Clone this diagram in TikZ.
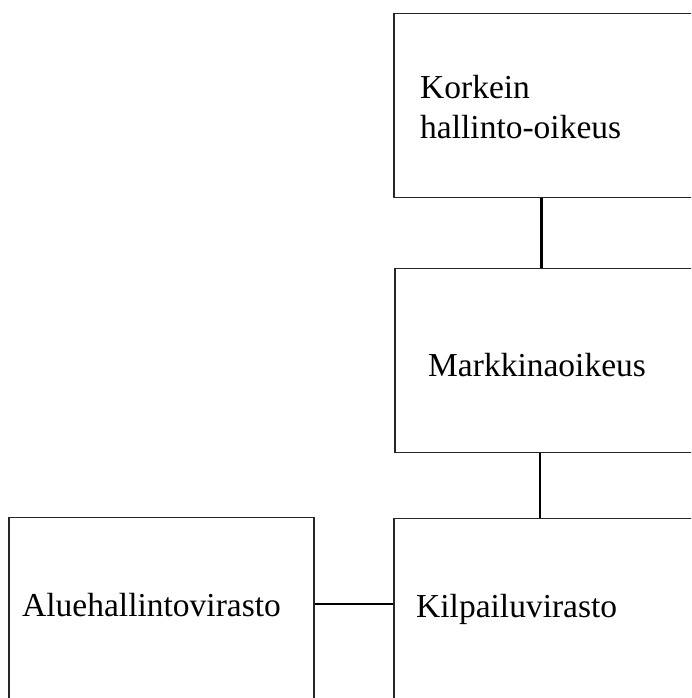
\documentclass[tikz,border=0pt]{standalone}
\usepackage{fontspec}
\setmainfont{Liberation Serif}
\usetikzlibrary{positioning}

\tikzset{
	laatikko/.style={draw=black!85, line width=1.5pt, rectangle, inner sep=0pt, anchor=north west},
	teksti/.style={inner sep=0pt, align=left, font=\fontsize{33.5}{40}\selectfont},
	yhdys/.style={draw=black, line width=2.8pt}
}

\begin{document}
\begin{tikzpicture}[line cap=butt,line join=miter,x=1pt,y=1pt]

		\useasboundingbox (0,0) rectangle (691,698);
		\clip (0,0) rectangle (691,698);

		%laatikot
		\node[laatikko, minimum width=330pt, minimum height=184pt] (kho) at (393,685) {};
		\node[laatikko, minimum width=330pt, minimum height=184pt] (mao) at (394,430) {};
		\node[laatikko, minimum width=330pt, minimum height=200pt] (kkv) at (393,180) {};
		\node[laatikko, minimum width=305pt, minimum height=200pt] (avi) at (8,181) {};

		%tekstit
		\node[teksti, anchor=north west] (khoT) at (420,623) {Korkein\\hallinto-oikeus};
		\node[teksti, anchor=base west] (maoT) at (428,321) {Markkinaoikeus};
		\node[teksti, anchor=base west] (kkvT) at (416,80) {Kilpailuvirasto};
		\node[teksti, anchor=base west] (aviT) at (22,81) {Aluehallintovirasto};

		% yhdysviivat
		\draw[yhdys] ([xshift=148.5pt]kho.south west) -- ([xshift=148.5pt]kho.south west |- mao.north);
		\draw[yhdys] ([xshift=146pt]mao.south west) -- ([xshift=146pt]mao.south west |- kkv.north);
		\draw[yhdys] ([yshift=-87pt]avi.north east) -- ([yshift=-87pt]avi.north east -| kkv.west);

\end{tikzpicture}
\end{document}
